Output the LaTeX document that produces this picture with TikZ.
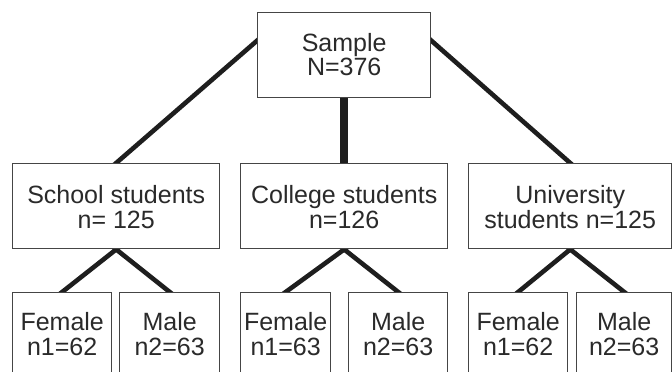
\documentclass[tikz,border=0pt]{standalone}
\usepackage{fontspec}
\setmainfont{Liberation Sans}
\usetikzlibrary{backgrounds}
\definecolor{boxgray}{HTML}{454545}
\definecolor{linec}{HTML}{1E1E1E}
\definecolor{txt}{HTML}{2A2A2A}
\begin{document}
\begin{tikzpicture}[x=1pt,y=-1pt,
  box/.style={draw=boxgray,line width=1.4pt,fill=white,inner sep=0pt,anchor=north west},
  lbl/.style={anchor=north,inner sep=0pt,align=center,text=txt,font=\fontsize{25pt}{24.5pt}\selectfont},
  conn/.style={draw=linec,line width=4.6pt,shorten <=-5pt,shorten >=-5pt},
  trunk/.style={draw=linec,line width=7.6pt,shorten <=-2pt,shorten >=-2pt}]
\clip (0,0) rectangle (672,372);
% top
\node[box,minimum width=173pt,minimum height=85pt] (S) at (257,12) {};
% middle
\node[box,minimum width=207pt,minimum height=85pt] (Sc) at (12,163) {};
\node[box,minimum width=207pt,minimum height=85pt] (Co) at (240,163) {};
\node[box,minimum width=203pt,minimum height=85pt] (Un) at (468,163) {};
% bottom
\node[box,minimum width=99pt,minimum height=120pt] (F1) at (12,292) {};
\node[box,minimum width=100pt,minimum height=120pt] (M1) at (119,292) {};
\node[box,minimum width=90pt,minimum height=120pt] (F2) at (240,292) {};
\node[box,minimum width=99pt,minimum height=120pt] (M2) at (348,292) {};
\node[box,minimum width=99pt,minimum height=120pt] (F3) at (468,292) {};
\node[box,minimum width=95pt,minimum height=120pt] (M3) at (576,292) {};
% labels
\node[lbl] (tS) at ([yshift=-21pt]S.north) {Sample\\N=376};
\node[lbl] (tSc) at ([yshift=-22.5pt]Sc.north) {School students\\n= 125};
\node[lbl] (tCo) at ([yshift=-22.5pt]Co.north) {College students\\n=126};
\node[lbl] (tUn) at ([yshift=-22.5pt]Un.north) {University\\students n=125};
\node[lbl] (tF1) at ([yshift=-20.5pt]F1.north) {Female\\n1=62};
\node[lbl] (tM1) at ([yshift=-20.5pt]M1.north) {Male\\n2=63};
\node[lbl] (tF2) at ([yshift=-20.5pt]F2.north) {Female\\n1=63};
\node[lbl] (tM2) at ([yshift=-20.5pt]M2.north) {Male\\n2=63};
\node[lbl] (tF3) at ([yshift=-20.5pt]F3.north) {Female\\n1=62};
\node[lbl] (tM3) at ([yshift=-20.5pt]M3.north) {Male\\n2=63};
% connectors
\begin{scope}[on background layer]
\draw[conn] (Sc.north) -- ([yshift=14.5pt]S.west);
\draw[conn] (Un.north) -- ([yshift=14.5pt]S.east);
\draw[trunk] (S.south) -- (Co.north);
\draw[conn] (Sc.south) -- (F1.north);
\draw[conn] (Sc.south) -- (M1.north);
\draw[conn] (Co.south) -- (F2.north);
\draw[conn] (Co.south) -- (M2.north);
\draw[conn] (Un.south) -- (F3.north);
\draw[conn] (Un.south) -- (M3.north);
\end{scope}
\end{tikzpicture}
\end{document}
